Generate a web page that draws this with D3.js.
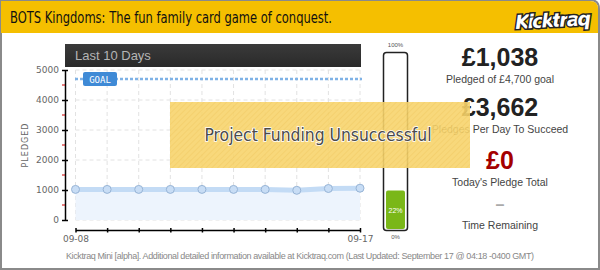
<!DOCTYPE html>
<html>
<head>
<meta charset="utf-8">
<script src="https://cdn.jsdelivr.net/npm/d3@7"></script>
<style>
  body { margin: 0; background: #fff; }
  svg text { font-family: "Liberation Sans", Arial, sans-serif; }
</style>
</head>
<body>
<div id="chart"></div>
<script>
// chart data
var title = "BOTS Kingdoms: The fun family card game of conquest.";
var days = ["09-08", "09-09", "09-10", "09-11", "09-12", "09-13", "09-14", "09-15", "09-16", "09-17"];
var pledged = [1020, 1020, 1020, 1020, 1020, 1020, 1020, 990, 1050, 1060];
var goal = 4700;
var yTicks = [0, 1000, 2000, 3000, 4000, 5000];
var yMinor = [500, 1500, 2500, 3500, 4500];
var progress = 22;
var stats = [
  {value: "£1,038", label: "Pledged of £4,700 goal"},
  {value: "£3,662", label: "Pledges Per Day To Succeed"},
  {value: "£0", label: "Today's Pledge Total"},
  {value: "–", label: "Time Remaining"}
];

var W = 600, H = 270;
var svg = d3.select("#chart").append("svg").attr("width", W).attr("height", H);
var defs = svg.append("defs");
var hatch = defs.append("pattern").attr("id", "hatch").attr("patternUnits", "userSpaceOnUse")
  .attr("width", 4).attr("height", 4).attr("patternTransform", "rotate(45)");
hatch.append("rect").attr("width", 4).attr("height", 4).attr("fill", "#f7d46c");
hatch.append("line").attr("x1", 0).attr("y1", 0).attr("x2", 0).attr("y2", 4).attr("stroke", "#f2c85a").attr("stroke-width", 1.5);
var grad = defs.append("linearGradient").attr("id", "darkhead").attr("x1", 0).attr("y1", 0).attr("x2", 0).attr("y2", 1);
grad.append("stop").attr("offset", "0%").attr("stop-color", "#3a3a3a");
grad.append("stop").attr("offset", "100%").attr("stop-color", "#2a2a2a");

// frame + header
svg.append("path").attr("d", "M1,0 H590 Q599,0 599,9 V269 H1 Z").attr("fill", "#fff").attr("stroke", "#8a8a8a").attr("stroke-width", 2);
svg.append("path").attr("d", "M1,1 H590 Q598,1 598,9 V33 H1 Z").attr("fill", "#f5bf00");
svg.append("text").attr("x", 10).attr("y", 23).text(title)
  .style("font-family", "'DejaVu Sans Condensed', 'Liberation Sans Narrow', sans-serif")
  .style("font-size", "16px").attr("fill", "#111").attr("textLength", 322).attr("lengthAdjust", "spacingAndGlyphs");
svg.append("text").attr("x", 553).attr("y", 27).attr("text-anchor", "middle").text("Kicktraq")
  .style("font-family", "'DejaVu Sans', sans-serif").style("font-weight", "bold").style("font-style", "italic")
  .style("font-size", "19px").attr("fill", "#fff").attr("stroke", "#222").attr("stroke-width", 3)
  .attr("paint-order", "stroke").attr("textLength", 76).attr("transform", "rotate(-3 553 20)");

// dark panel header
svg.append("rect").attr("x", 65).attr("y", 44).attr("width", 296).attr("height", 23).attr("fill", "url(#darkhead)");
svg.append("text").attr("x", 75).attr("y", 60).text("Last 10 Days").style("font-size", "13px").attr("fill", "#b5b5b5");

// scales
var x = d3.scalePoint().domain(days).range([75.5, 360]);
var y = d3.scaleLinear().domain([0, 5000]).range([220, 70]);

// grid
var grid = svg.append("g").attr("stroke", "#e2e2e2").attr("stroke-dasharray", "4,3");
grid.selectAll(".gv").data(days).enter().append("line")
  .attr("x1", function(d) { return x(d); }).attr("x2", function(d) { return x(d); })
  .attr("y1", y(5000)).attr("y2", y(0));
grid.selectAll(".gh").data(yTicks).enter().append("line")
  .attr("x1", x(days[0])).attr("x2", x(days[days.length - 1]))
  .attr("y1", function(d) { return y(d); }).attr("y2", function(d) { return y(d); });

// goal line
svg.append("line").attr("x1", 75).attr("x2", 362).attr("y1", y(goal)).attr("y2", y(goal))
  .attr("stroke", "#7fb2e6").attr("stroke-width", 2.5).attr("stroke-dasharray", "3,2");
svg.append("rect").attr("x", 83).attr("y", y(goal) - 7).attr("width", 34).attr("height", 14).attr("rx", 2).attr("fill", "#3f8ad6");
svg.append("text").attr("x", 100).attr("y", y(goal) + 3.5).attr("text-anchor", "middle").text("GOAL")
  .style("font-family", "'DejaVu Sans Mono', monospace").style("font-size", "9px").attr("fill", "#fff");

// area + line + points
var area = d3.area().x(function(d, i) { return x(days[i]); }).y0(y(0)).y1(function(d) { return y(d); });
var line = d3.line().x(function(d, i) { return x(days[i]); }).y(function(d) { return y(d); });
svg.append("path").datum(pledged).attr("d", area).attr("fill", "#edf4fd");
svg.append("path").datum(pledged).attr("d", line).attr("fill", "none").attr("stroke", "#c3dbf5").attr("stroke-width", 5);
svg.selectAll(".pt").data(pledged).enter().append("circle")
  .attr("cx", function(d, i) { return x(days[i]); }).attr("cy", function(d) { return y(d); })
  .attr("r", 4).attr("fill", "#c8ddf5").attr("stroke", "#97b4d6").attr("stroke-width", 1);

// y axis
var yAxis = d3.axisLeft(y).tickValues(yTicks).tickFormat(d3.format("d")).tickSizeInner(3).tickSizeOuter(0).tickPadding(5);
var ya = svg.append("g").attr("transform", "translate(65,0)").call(yAxis);
ya.select(".domain").attr("stroke", "#000").attr("stroke-width", 1.5);
ya.selectAll(".tick line").attr("x1", -3).attr("x2", 3).attr("stroke", "#000").attr("stroke-width", 1.5);
ya.selectAll(".tick text").style("font-family", "'DejaVu Sans', sans-serif").style("font-size", "9px").attr("fill", "#666").attr("x", -6);
ya.selectAll(".minor").data(yMinor).enter().append("line").attr("class", "minor")
  .attr("x1", -3).attr("x2", 0).attr("y1", function(d) { return y(d); }).attr("y2", function(d) { return y(d); })
  .attr("stroke", "#c00").attr("stroke-width", 1);
svg.append("text").attr("transform", "translate(28,145) rotate(-90)").attr("text-anchor", "middle").text("PLEDGED")
  .style("font-family", "'DejaVu Sans', sans-serif").style("font-size", "8px").style("letter-spacing", "1px").attr("fill", "#666");

// x axis
var xAxis = d3.axisBottom(x).tickSize(0).tickPadding(6)
  .tickFormat(function(d, i) { return (i == 0 || i == days.length - 1) ? d : ""; });
var xa = svg.append("g").attr("transform", "translate(0,230)").call(xAxis);
xa.select(".domain").attr("stroke", "#000").attr("stroke-width", 1.5);
xa.selectAll(".tick line").attr("y1", -2).attr("y2", 2.5).attr("stroke", "#000").attr("stroke-width", 1.5);
xa.selectAll(".tick text").style("font-family", "'DejaVu Sans', sans-serif").style("font-size", "9px").attr("fill", "#666");

// progress bar
var p = d3.scaleLinear().domain([0, 100]).range([229, 54]);
svg.append("rect").attr("x", 383.5).attr("y", 52.5).attr("width", 24).attr("height", 178).attr("rx", 3)
  .attr("fill", "#fff").attr("stroke", "#222").attr("stroke-width", 1.5);
svg.append("rect").attr("x", 386).attr("y", p(progress)).attr("width", 19).attr("height", p(0) - p(progress)).attr("rx", 2)
  .attr("fill", "#7ab718");
svg.append("text").attr("x", 395.5).attr("y", (p(0) + p(progress)) / 2 + 3).attr("text-anchor", "middle").text(progress + "%")
  .style("font-size", "7px").attr("fill", "#fff");
svg.append("text").attr("x", 395.5).attr("y", 47).attr("text-anchor", "middle").text("100%").style("font-size", "6px").attr("fill", "#555");
svg.append("text").attr("x", 395.5).attr("y", 239).attr("text-anchor", "middle").text("0%").style("font-size", "6px").attr("fill", "#555");

// stats
var statY = [66, 116, 169, 210];
stats.forEach(function(s, i) {
  svg.append("text").attr("x", 500).attr("y", statY[i]).attr("text-anchor", "middle").text(s.value)
    .style("font-size", i == 3 ? "16px" : "25px").style("font-weight", "bold")
    .attr("fill", i == 2 ? "#a40000" : (i == 3 ? "#aaa" : "#222"));
  svg.append("text").attr("x", 500).attr("y", statY[i] + (i == 3 ? 19 : 17)).attr("text-anchor", "middle").text(s.label)
    .style("font-size", "10.5px").attr("fill", "#444");
});

// unsuccessful banner
svg.append("rect").attr("x", 170).attr("y", 102).attr("width", 300).attr("height", 66)
  .attr("fill", "url(#hatch)").attr("opacity", 0.9);
svg.append("text").attr("x", 318).attr("y", 141).attr("text-anchor", "middle").text("Project Funding Unsuccessful")
  .style("font-family", "'DejaVu Sans Condensed', 'Liberation Sans Narrow', sans-serif").style("font-size", "17px")
  .style("fill", "#4a4a4a").attr("stroke", "#fff").attr("stroke-width", 1.5).attr("paint-order", "stroke")
  .attr("textLength", 227).attr("lengthAdjust", "spacingAndGlyphs");

// footer
svg.append("text").attr("x", 300).attr("y", 259).attr("text-anchor", "middle")
  .text("Kicktraq Mini [alpha]. Additional detailed information available at Kicktraq.com (Last Updated: September 17 @ 04:18 -0400 GMT)")
  .style("font-size", "9px").attr("fill", "#888").attr("textLength", 468);
</script>
</body>
</html>
